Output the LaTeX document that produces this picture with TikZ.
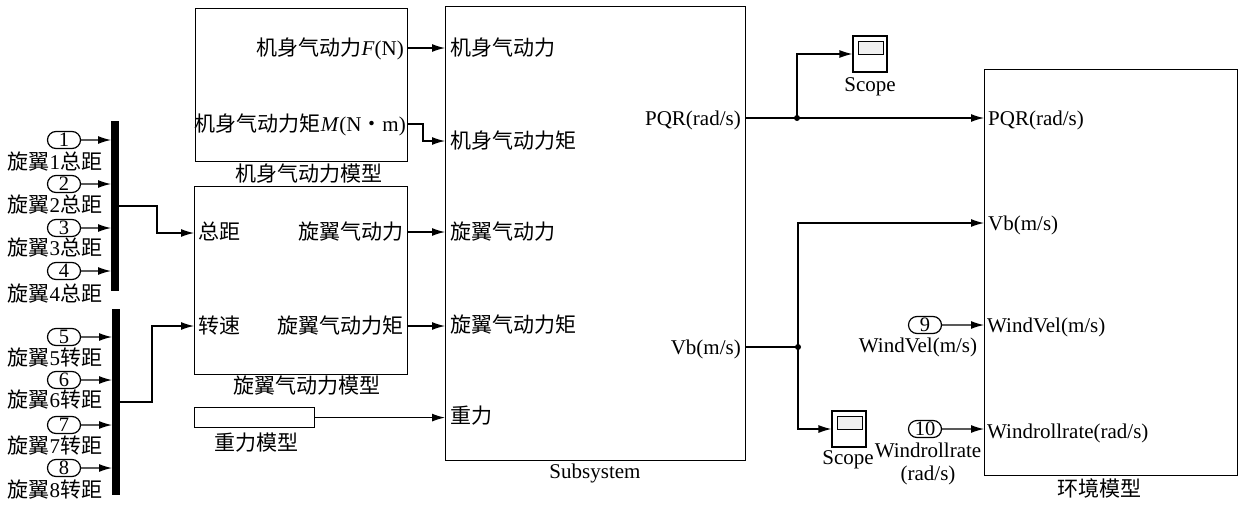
\documentclass[tikz,border=0pt]{standalone}
\usepackage{fontspec}
\setmainfont{Liberation Serif}
\newfontfamily\cjk{Noto Sans CJK SC}
\usetikzlibrary{arrows.meta,shapes.misc}
\tikzset{
 px/.style={x=1pt,y=-1pt},
 blockbox/.style={draw,line width=1.2pt,inner sep=0,anchor=north west},
 lbl/.style={inner sep=0,text height=16pt,text depth=2pt,font=\fontsize{21}{22}\selectfont},
 port/.style={draw,line width=1.2pt,rounded rectangle,inner sep=0,text height=13pt,text depth=1pt,minimum width=33pt,minimum height=17pt,font=\fontsize{20.5}{21}\selectfont},
 con/.style={line width=1.2pt,-{Latex[length=13pt,width=8pt]}},
 bar/.style={fill=black,inner sep=0,anchor=north west},
 dotn/.style={circle,fill=black,inner sep=0,minimum size=6pt},
 scopebox/.style={draw,line width=1.2pt,fill=white,minimum width=34pt,minimum height=36pt,inner sep=0},
 scopescreen/.style={draw,line width=1.2pt,fill=black!6,minimum width=25pt,minimum height=13pt,inner sep=0},
}
\newcommand{\bx}[5]{\node[blockbox,minimum width=#4pt,minimum height=#5pt] (#1) at (#2,#3) {};}
\newcommand{\scp}[3]{%
 \node[scopebox] (#1) at (#2,#3) {};
 \node[scopescreen] (#1s) at (#2+1,#3-6) {};}
\begin{document}
\begin{tikzpicture}[px]
\useasboundingbox (0,0) rectangle (1245,506);
\bx{aero}{195}{8}{212}{153}
\bx{rot}{194}{186}{213}{188}
\bx{grav}{194}{407}{120}{20}
\bx{sub}{445}{6}{300}{454}
\bx{env}{984}{69}{253}{406}
\node[lbl,anchor=east] (a1) at (404,48) {{\cjk 机身气动力}\textit{F}(N)};
\node[lbl,anchor=east] (a2) at (406,124) {{\cjk 机身气动力矩}\textit{M}(N{\cjk ・}m)};
\node[lbl] (a3) at (309,174) {\cjk 机身气动力模型};
\node[lbl,anchor=west] (r1) at (198,232) {\cjk 总距};
\node[lbl,anchor=west] (r2) at (198,326) {\cjk 转速};
\node[lbl,anchor=east] (r3) at (404,232) {\cjk 旋翼气动力};
\node[lbl,anchor=east] (r4) at (404,326) {\cjk 旋翼气动力矩};
\node[lbl] (r5) at (307,386) {\cjk 旋翼气动力模型};
\node[lbl] (g1) at (256,443) {\cjk 重力模型};
\node[lbl,anchor=west] (s1) at (450,48) {\cjk 机身气动力};
\node[lbl,anchor=west] (s2) at (450,141) {\cjk 机身气动力矩};
\node[lbl,anchor=west] (s3) at (450,232) {\cjk 旋翼气动力};
\node[lbl,anchor=west] (s4) at (450,325) {\cjk 旋翼气动力矩};
\node[lbl,anchor=west] (s5) at (450,416) {\cjk 重力};
\node[lbl,anchor=east] (s6) at (741,118) {PQR(rad/s)};
\node[lbl,anchor=east] (s7) at (741,347) {Vb(m/s)};
\node[lbl] (s8) at (595,471) {Subsystem};
\node[lbl,anchor=west] (e1) at (988,118) {PQR(rad/s)};
\node[lbl,anchor=west] (e2) at (988,223) {Vb(m/s)};
\node[lbl,anchor=west] (e3) at (987,325) {WindVel(m/s)};
\node[lbl,anchor=west] (e4) at (987,431) {Windrollrate(rad/s)};
\node[lbl] (e5) at (1099,489) {\cjk 环境模型};
\node[bar,minimum width=8pt,minimum height=170pt] (b1) at (111,121) {};
\node[bar,minimum width=8pt,minimum height=186pt] (b2) at (112,309) {};
\foreach \n/\y/\bar in {1/140/b1,2/184/b1,3/228/b1,4/271/b1,5/337/b2,6/380/b2,7/425/b2,8/468/b2}{
 \node[port] (p\n) at (64,\y) {\n};
 \draw[con] (p\n) -- (p\n-|\bar.west);
}
\node[lbl] (t1) at (55,162) {{\cjk 旋翼}1{\cjk 总距}};
\node[lbl] (t2) at (55,205) {{\cjk 旋翼}2{\cjk 总距}};
\node[lbl] (t3) at (55,248) {{\cjk 旋翼}3{\cjk 总距}};
\node[lbl] (t4) at (55,294) {{\cjk 旋翼}4{\cjk 总距}};
\node[lbl] (t5) at (55,358) {{\cjk 旋翼}5{\cjk 转距}};
\node[lbl] (t6) at (55,400) {{\cjk 旋翼}6{\cjk 转距}};
\node[lbl] (t7) at (55,446) {{\cjk 旋翼}7{\cjk 转距}};
\node[lbl] (t8) at (55,490) {{\cjk 旋翼}8{\cjk 转距}};
\coordinate (b1o) at (119,206);
\coordinate (b2o) at (120,402);
\coordinate (j1) at (157,233);
\coordinate (j2) at (152,402);
\coordinate (j3) at (423,124);
\draw[con] (b1o) -| (j1) -- (rot.west|-j1);
\draw[con] (b2o) -- (j2) |- (rot.west|-r2);
\draw[con] (aero.east|-a1) -- (sub.west|-a1);
\draw[con] (aero.east|-a2) -- (j3) |- (sub.west|-s2);
\draw[con] (rot.east|-r3) -- (sub.west|-r3);
\draw[con] (rot.east|-r4) -- (sub.west|-r4);
\draw[con] (grav.east) -- (sub.west|-grav.east);
\node[dotn] (d1) at (797,118) {};
\node[dotn] (d2) at (798,347) {};
\scp{sc1}{870}{54}
\scp{sc2}{849}{429}
\node[lbl] (c1) at (870,84) {Scope};
\node[lbl] (c2) at (848,457) {Scope};
\draw[con] (sub.east|-d1) -- (d1.center) -- (env.west|-d1);
\draw[con] (d1.center) |- (sc1.west);
\draw[line width=1.2pt] (sub.east|-d2) -- (d2.center);
\draw[con] (d2.center) |- (sc2.west);
\draw[con] (d2.center) |- (env.west|-e2);
\node[port] (p9) at (925,325) {9};
\node[port] (p10) at (925,429) {10};
\draw[con] (p9) -- (env.west|-p9);
\draw[con] (p10) -- (env.west|-p10);
\node[lbl] (w1) at (918,345) {WindVel(m/s)};
\node[lbl] (w2) at (928,450) {Windrollrate};
\node[lbl] (w3) at (928,473) {(rad/s)};
\end{tikzpicture}
\end{document}
